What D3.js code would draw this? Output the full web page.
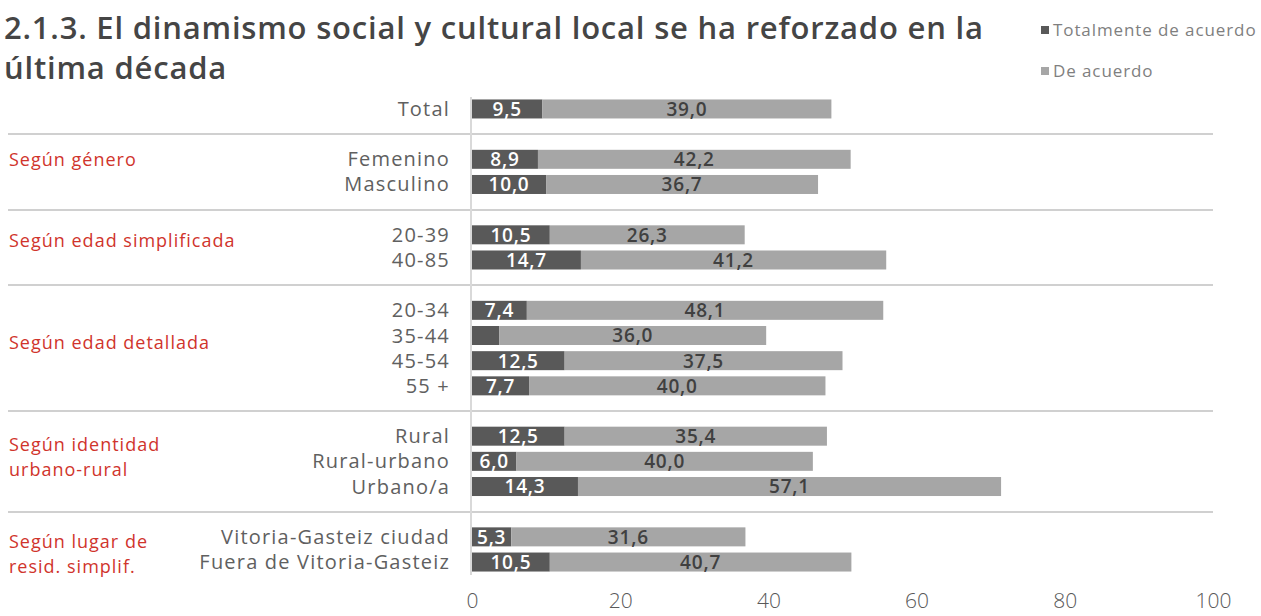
<!DOCTYPE html>
<html>
<head>
<meta charset="utf-8">
<script src="https://cdn.jsdelivr.net/npm/d3@7"></script>
<style>
  body { margin: 0; background: #fff; }
  text { font-family: "Open Sans", "Noto Sans", sans-serif; }
</style>
</head>
<body>
<script>
// categories in display order ("" = blank spacer row between groups)
const categories = ["Total", "", "Femenino", "Masculino", "", "20-39", "40-85", "",
  "20-34", "35-44", "45-54", "55 +", "", "Rural", "Rural-urbano", "Urbano/a", "",
  "Vitoria-Gasteiz ciudad", "Fuera de Vitoria-Gasteiz"];
const totalmente = [9.5, null, 8.9, 10.0, null, 10.5, 14.7, null,
  7.4, 3.7, 12.5, 7.7, null, 12.5, 6.0, 14.3, null, 5.3, 10.5];
const deAcuerdo = [39.0, null, 42.2, 36.7, null, 26.3, 41.2, null,
  48.1, 36.0, 37.5, 40.0, null, 35.4, 40.0, 57.1, null, 31.6, 40.7];
const groupNames = [["Según género"], ["Según edad simplificada"], ["Según edad detallada"],
  ["Según identidad", "urbano-rural"], ["Según lugar de", "resid. simplif."]];
const xTicks = [0, 20, 40, 60, 80, 100];
const seriesNames = ["Totalmente de acuerdo", "De acuerdo"];
const colors = ["#595959", "#a6a6a6"];

// row (fractional) where each group title's first line sits
const groupLabelRow = [2, 5.25, 9.3, 13.35, 17.2];

const W = 1261, H = 616;
const svg = d3.select("body").append("svg")
  .attr("width", W).attr("height", H);

const x = d3.scaleLinear().domain([0, 100]).range([472, 1213]);
const y = d3.scaleBand().domain(d3.range(categories.length))
  .range([93.3, 577.7]).padding(0.245);
const bw = y.bandwidth();
const rowY = r => y(0) + bw / 2 + r * y.step();

// title
const title = svg.append("text")
  .style("font-size", "31px").style("font-weight", 600).style("fill", "#454545")
  .style("letter-spacing", "0.8px");
title.append("tspan").attr("x", 4).attr("y", 39)
  .text("2.1.3. El dinamismo social y cultural local se ha reforzado en la");
title.append("tspan").attr("x", 4).attr("y", 79).text("última década");

// legend
seriesNames.forEach((n, i) => {
  const ly = 30 + i * 41;
  svg.append("rect").attr("x", 1041).attr("y", ly - 4).attr("width", 8).attr("height", 8)
    .attr("fill", colors[i]);
  svg.append("text").attr("x", 1053).attr("y", ly).attr("dy", "0.35em")
    .style("font-size", "17px").style("fill", "#7f7f7f").style("letter-spacing", "0.9px")
    .text(n);
});

// separators between groups
const sepRows = categories.map((c, i) => c === "" ? i : null).filter(d => d !== null);
svg.selectAll(".sep").data(sepRows).join("line")
  .attr("x1", 8).attr("x2", 1213)
  .attr("y1", d => Math.round(y(d) + bw / 2))
  .attr("y2", d => Math.round(y(d) + bw / 2))
  .attr("stroke", "#d0d0d0").attr("stroke-width", 2);

// vertical axis line
svg.append("line").attr("x1", x(0) - 1).attr("x2", x(0) - 1)
  .attr("y1", 97).attr("y2", 575)
  .attr("stroke", "#d9d9d9").attr("stroke-width", 2);

// rows with data
const rows = categories.map((c, i) => ({c, i, a: totalmente[i], b: deAcuerdo[i]}))
  .filter(d => d.c !== "");

// category labels
svg.selectAll(".cat").data(rows).join("text")
  .attr("x", 450).attr("y", d => y(d.i) + bw / 2).attr("dy", "0.35em")
  .attr("text-anchor", "end")
  .style("font-size", "20px").style("fill", "#606060").style("letter-spacing", "1.2px")
  .text(d => d.c);

// bars
svg.selectAll(".barA").data(rows).join("rect")
  .attr("x", x(0)).attr("y", d => y(d.i)).attr("height", bw)
  .attr("width", d => x(d.a) - x(0))
  .attr("fill", colors[0]);
svg.selectAll(".barB").data(rows).join("rect")
  .attr("x", d => x(d.a)).attr("y", d => y(d.i)).attr("height", bw)
  .attr("width", d => x(d.a + d.b) - x(d.a))
  .attr("fill", colors[1]);

const fmt = v => v.toFixed(1).replace(".", ",");
svg.selectAll(".labA").data(rows.filter(d => d.a >= 5)).join("text")
  .attr("x", d => (x(0) + x(d.a)) / 2).attr("y", d => y(d.i) + bw / 2).attr("dy", "0.36em")
  .attr("text-anchor", "middle")
  .style("font-size", "19px").style("font-weight", 600).style("fill", "#fff")
  .style("letter-spacing", "0.8px")
  .text(d => fmt(d.a));
svg.selectAll(".labB").data(rows).join("text")
  .attr("x", d => (x(d.a) + x(d.a + d.b)) / 2).attr("y", d => y(d.i) + bw / 2).attr("dy", "0.36em")
  .attr("text-anchor", "middle")
  .style("font-size", "19px").style("font-weight", 600).style("fill", "#404040")
  .style("letter-spacing", "0.8px")
  .text(d => fmt(d.b));

// group titles
groupNames.forEach((lines, g) => {
  lines.forEach((l, k) => {
    svg.append("text").attr("x", 9)
      .attr("y", rowY(groupLabelRow[g]) + k * 25).attr("dy", "0.35em")
      .style("font-size", "18px").style("fill", "#d0342c").style("letter-spacing", "1px")
      .text(l);
  });
});

// x axis
const xAxis = svg.append("g").attr("transform", "translate(0,601)")
  .call(d3.axisBottom(x).tickValues(xTicks).tickSize(0));
xAxis.select(".domain").remove();
xAxis.selectAll("text")
  .attr("y", 0).attr("dy", "0.35em")
  .style("font-family", "'Open Sans', sans-serif")
  .style("font-size", "21px").style("font-weight", 300).style("fill", "#595959");
</script>
</body>
</html>
